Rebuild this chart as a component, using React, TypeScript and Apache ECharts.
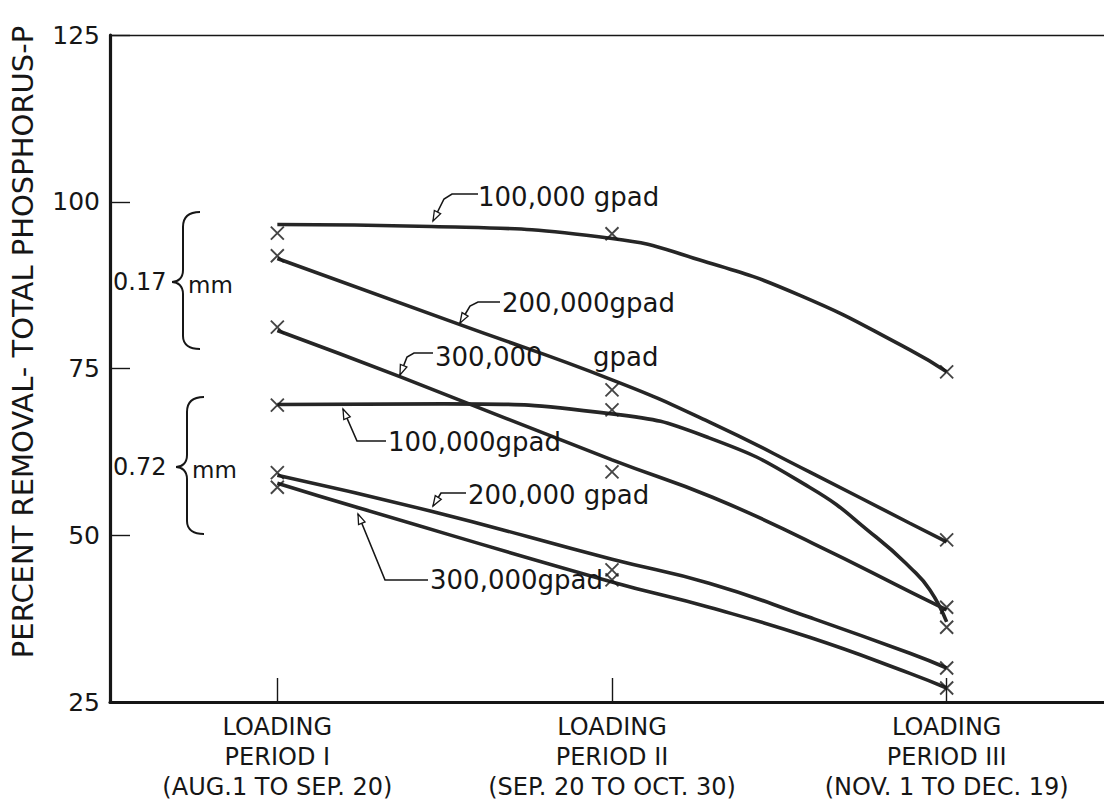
import React, { useEffect, useRef } from "react";
import * as echarts from "echarts";

// ---- categories / ticks ----
const periods = [
  "LOADING\nPERIOD I\n(AUG.1 TO SEP. 20)",
  "LOADING\nPERIOD II\n(SEP. 20 TO OCT. 30)",
  "LOADING\nPERIOD III\n(NOV. 1 TO DEC. 19)",
];
const yMin = 25;
const yMax = 125;
const yStep = 25;

// ---- curve traces: [period position, percent removal] ----
const curve017_100k = [[0, 96.6], [0.46, 96.3], [1, 94.5], [1.26, 91.3], [1.56, 86.0], [1.89, 77.8], [2, 74.5]];
const curve017_200k = [[0, 91.5], [0.55, 81.5], [1, 73.3], [1.29, 67.0], [1.59, 59.5], [1.89, 51.8], [2, 49.0]];
const curve017_300k = [[0, 80.7], [0.37, 73.7], [1, 61.3], [1.3, 55.7], [1.6, 48.8], [1.9, 41.3], [2, 38.8]];
const curve072_100k = [[0, 69.6], [0.5, 69.7], [1, 68.2], [1.29, 64.6], [1.59, 57.2], [1.79, 49.7], [1.89, 45.2], [1.95, 41.8], [2, 37.0]];
const curve072_200k = [[0, 59.0], [0.46, 53.6], [1, 46.4], [1.29, 42.8], [1.59, 37.7], [1.89, 32.3], [2, 30.1]];
const curve072_300k = [[0, 57.8], [0.25, 54.0], [1, 43.0], [1.29, 39.2], [1.59, 34.7], [1.89, 29.3], [2, 27.1]];

// ---- measured points (x markers) ----
const pts017_100k = [[0, 95.3], [1, 95.2], [2, 74.5]];
const pts017_200k = [[0, 91.9], [1, 71.8], [2, 49.3]];
const pts017_300k = [[0, 81.2], [1, 59.5], [2, 39.2]];
const pts072_100k = [[0, 69.5], [1, 68.8], [2, 36.2]];
const pts072_200k = [[0, 59.4], [1, 44.8], [2, 30.1]];
const pts072_300k = [[0, 57.2], [1, 43.3], [2, 27.1]];

const INK = "#161616";
const LINE = "#262626";
const FONT = "DejaVu Sans";

const bracePath =
  "M28,-70 C18,-70 11,-66 11,-55 L11,-12 C11,-4 6,0 0,0 C6,0 11,4 11,12 L11,54 C11,63 18,67 28,67";

let braceRegistered = false;

function arrowHead(tip: number[], from: number[]) {
  const dx = tip[0] - from[0];
  const dy = tip[1] - from[1];
  const len = Math.sqrt(dx * dx + dy * dy) || 1;
  const ux = dx / len;
  const uy = dy / len;
  const nx = -uy;
  const ny = ux;
  const L = 10;
  const W = 3.5;
  return {
    type: "polygon",
    shape: {
      points: [
        [tip[0], tip[1]],
        [tip[0] - ux * L + nx * W, tip[1] - uy * L + ny * W],
        [tip[0] - ux * L - nx * W, tip[1] - uy * L - ny * W],
      ],
    },
    style: { fill: "#fff", stroke: INK, lineWidth: 1.3 },
    z: 10,
  };
}

function leader(points: number[][]) {
  const n = points.length;
  return [
    {
      type: "polyline",
      shape: { points },
      style: { stroke: INK, lineWidth: 1.6, fill: "none" },
      z: 10,
    },
    arrowHead(points[n - 1], points[n - 2]),
  ];
}

function label(text: string, x: number, y: number, size = 26) {
  return {
    type: "text",
    x,
    y,
    style: {
      text,
      fill: INK,
      font: `${size}px "${FONT}"`,
      align: "left",
      verticalAlign: "middle",
    },
    z: 11,
  };
}

export default function App() {
  const ref = useRef<HTMLDivElement>(null);

  useEffect(() => {
    if (!ref.current) return;
    if (!braceRegistered) {
      echarts.graphic.registerShape("brace", echarts.graphic.extendPath(bracePath, {}));
      braceRegistered = true;
    }
    const chart = echarts.init(ref.current, undefined, { renderer: "svg" });

    const curve = (data: number[][]) => ({
      type: "line",
      xAxisIndex: 1,
      yAxisIndex: 0,
      data,
      showSymbol: false,
      symbol: "none",
      smooth: 0.5,
      lineStyle: { color: LINE, width: 3.6 },
      z: 3,
      silent: true,
    });
    const marks = (data: number[][]) => ({
      type: "scatter",
      xAxisIndex: 1,
      yAxisIndex: 0,
      data,
      symbol: "path://M0,0L10,10M10,0L0,10",
      symbolSize: 13,
      itemStyle: { color: "none", borderColor: INK, borderWidth: 1.9 },
      z: 4,
      silent: true,
    });

    const graphics: any[] = [
      // y-axis title
      {
        type: "text",
        x: 23,
        y: 342,
        rotation: Math.PI / 2,
        style: {
          text: "PERCENT REMOVAL- TOTAL PHOSPHORUS-P",
          fill: INK,
          font: `29px "${FONT}"`,
          align: "center",
          verticalAlign: "middle",
        },
      },
      // braces
      { type: "brace", x: 172, y: 282, style: { fill: "none", stroke: INK, lineWidth: 2 } },
      { type: "brace", x: 176, y: 467, style: { fill: "none", stroke: INK, lineWidth: 2 } },
      label("0.17", 113, 282, 24),
      label("mm", 188, 285, 23),
      label("0.72", 113, 467, 24),
      label("mm", 192, 470, 23),
      // curve labels
      label("100,000 gpad", 478, 197),
      label("200,000gpad", 502, 303),
      label("300,000", 435, 357),
      label("gpad", 593, 357),
      label("100,000gpad", 388, 442),
      label("200,000 gpad", 468, 495),
      label("300,000gpad", 430, 580),
      ...leader([[478, 194], [452, 194], [444, 199], [433, 221]]),
      ...leader([[500, 302], [478, 302], [470, 306], [460, 323]]),
      ...leader([[433, 353], [414, 353], [407, 357], [400, 375]]),
      ...leader([[386, 441], [357, 441], [343, 409]]),
      ...leader([[466, 493], [441, 493], [433, 506]]),
      ...leader([[428, 580], [385, 580], [358, 514]]),
    ];

    chart.setOption({
      animation: false,
      backgroundColor: "#ffffff",
      grid: {
        left: 110,
        top: 35,
        width: 1004,
        height: 667,
        containLabel: false,
        outerBoundsMode: "none",
      },
      xAxis: [
        {
          type: "category",
          data: periods,
          position: "bottom",
          boundaryGap: true,
          axisLine: { show: true, lineStyle: { color: INK, width: 3.2 } },
          axisTick: {
            show: true,
            alignWithLabel: true,
            inside: true,
            length: 24,
            lineStyle: { color: INK, width: 1.4 },
          },
          axisLabel: {
            color: INK,
            fontFamily: FONT,
            fontSize: 24,
            lineHeight: 30,
            margin: 10,
            interval: 0,
            hideOverlap: false,
          },
          splitLine: { show: false },
        },
        {
          type: "value",
          min: -0.5,
          max: 2.5,
          position: "top",
          axisLine: { show: true, onZero: false, lineStyle: { color: INK, width: 1.4 } },
          axisTick: { show: false },
          axisLabel: { show: false },
          splitLine: { show: false },
        },
      ],
      yAxis: [
        {
          type: "value",
          min: yMin,
          max: yMax,
          interval: yStep,
          axisLine: { show: true, onZero: false, lineStyle: { color: INK, width: 3.2 } },
          axisTick: { show: true, inside: true, length: 20, lineStyle: { color: INK, width: 1.4 } },
          axisLabel: { color: INK, fontFamily: FONT, fontSize: 25, margin: 10 },
          splitLine: { show: false },
        },
      ],
      series: [
        curve(curve017_100k),
        curve(curve017_200k),
        curve(curve017_300k),
        curve(curve072_100k),
        curve(curve072_200k),
        curve(curve072_300k),
        marks(pts017_100k),
        marks(pts017_200k),
        marks(pts017_300k),
        marks(pts072_100k),
        marks(pts072_200k),
        marks(pts072_300k),
      ],
      graphic: graphics,
    });

    return () => chart.dispose();
  }, []);

  return (
    <div
      ref={ref}
      style={{ position: "fixed", left: 0, top: 0, width: 1104, height: 803, background: "#fff" }}
    />
  );
}
